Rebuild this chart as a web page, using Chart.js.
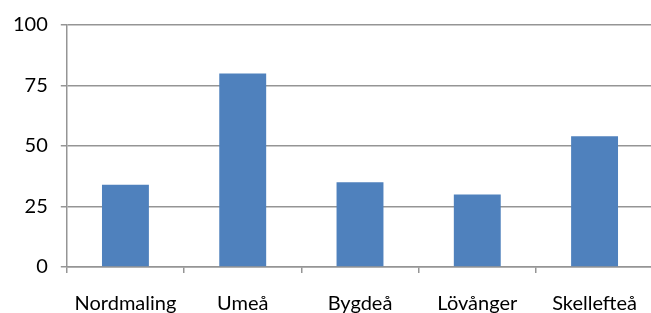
<!DOCTYPE html>
<html lang="sv">
<head>
    <meta charset="UTF-8">
    <title>Stapeldiagram</title>
    <style>
        html, body { margin: 0; padding: 0; background: #fff; overflow: hidden; }
        .wrap { width: 656px; height: 335px; }
    </style>
</head>
<body>
<div class="wrap">
    <canvas id="chart" width="656" height="335"></canvas>
</div>

<script src="https://cdn.jsdelivr.net/npm/chart.js"></script>
<script>
const places = ['Nordmaling', 'Umeå', 'Bygdeå', 'Lövånger', 'Skellefteå'];
const values = [34, 80, 35, 30, 54];
const yTicks = [0, 25, 50, 75, 100];

const gridGray = '#959595';
const labelFont = { family: 'Lato', size: 20 };

new Chart(document.getElementById('chart'), {
    type: 'bar',
    data: {
        labels: places,
        datasets: [{
            data: values,
            backgroundColor: '#4F81BD',
            borderWidth: 0,
            categoryPercentage: 1,
            barPercentage: 0.4
        }]
    },
    options: {
        responsive: false,
        animation: false,
        layout: { padding: { top: 12, left: 0, right: 0, bottom: 0 } },
        plugins: { legend: { display: false }, tooltip: { enabled: false } },
        scales: {
            x: {
                grid: { drawOnChartArea: false, drawTicks: true, tickLength: 6, color: gridGray, lineWidth: 1.5 },
                border: { color: gridGray, width: 1.5 },
                ticks: { color: '#000', padding: 19, font: labelFont }
            },
            y: {
                min: 0,
                max: 100,
                afterBuildTicks: axis => { axis.ticks = yTicks.map(v => ({ value: v })); },
                grid: { color: gridGray, lineWidth: 1.5, tickLength: 6 },
                border: { color: gridGray, width: 1.5 },
                ticks: { color: '#000', padding: 13, font: labelFont }
            }
        }
    }
});
</script>
</body>
</html>
